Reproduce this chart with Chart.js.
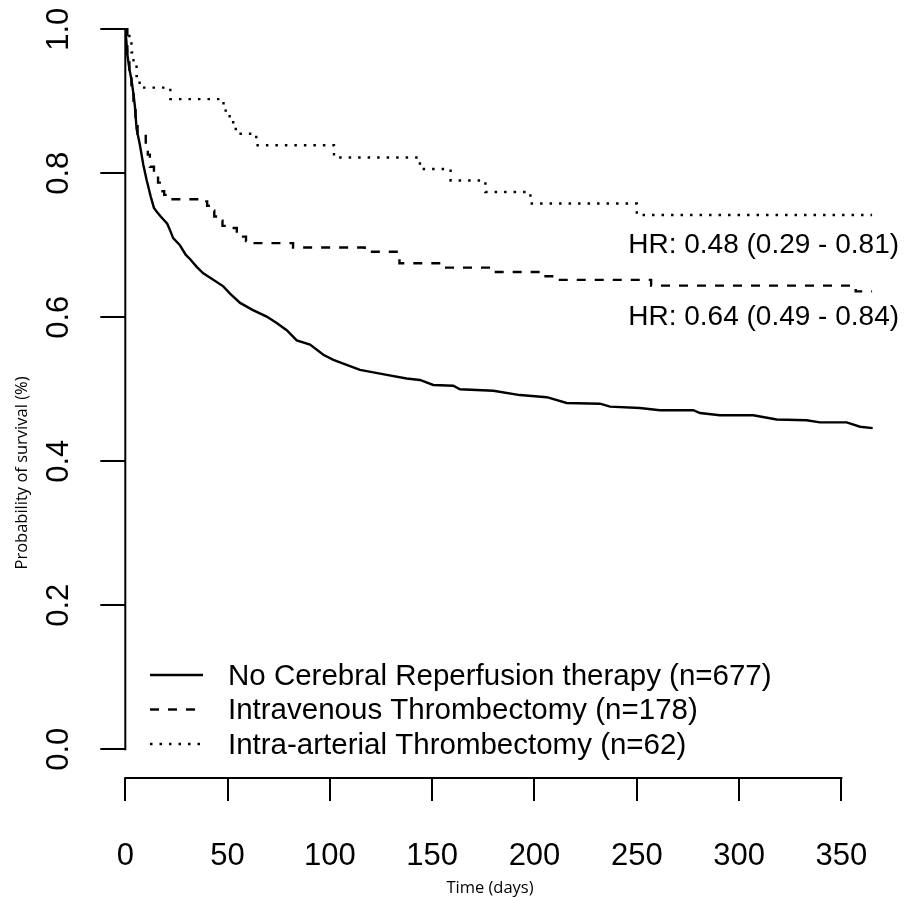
<!DOCTYPE html>
<html>
<head>
<meta charset="utf-8">
<script src="https://cdn.jsdelivr.net/npm/chart.js@4.4.1/dist/chart.umd.min.js"></script>
<style>
html,body{margin:0;padding:0;background:#fff;overflow:hidden}
#wrap{width:907px;height:898px;position:relative}
canvas{display:block}
</style>
</head>
<body>
<div id="wrap"><canvas id="c" width="907" height="898"></canvas></div>
<script>
// ---------- data ----------
const xTicks = [0, 50, 100, 150, 200, 250, 300, 350];
const xTickLabels = ['0', '50', '100', '150', '200', '250', '300', '350'];
const yTicks = [0, 0.2, 0.4, 0.6, 0.8, 1.0];
const yTickLabels = ['0.0', '0.2', '0.4', '0.6', '0.8', '1.0'];

const seriesNames = [
  'No Cerebral Reperfusion therapy (n=677)',
  'Intravenous Thrombectomy (n=178)',
  'Intra-arterial Thrombectomy (n=62)'
];

// No cerebral reperfusion therapy (solid)
const noTherapyDays = [0, 0.5, 1, 2, 3, 4, 4.7, 5.5, 7.1, 8.8, 10.4, 12.4, 14, 15.3, 17.3, 20.5, 22, 23.4, 26.7, 29.5, 31.6, 34.9, 38.1, 43, 47.9, 51.2, 56.1, 62.4, 69.1, 74, 78.9, 83.8, 90.3, 96.8, 101.7, 108.2, 114.7, 127.8, 137.5, 144, 150.5, 160.3, 163.6, 179.9, 192.9, 206, 215.7, 232, 236.9, 251.5, 261.3, 277.6, 280.9, 290.6, 306.9, 318.4, 333, 339.5, 352.6, 359.1, 365.3];
const noTherapySurv = [1, 0.985, 0.965, 0.945, 0.93, 0.91, 0.893, 0.862, 0.84, 0.812, 0.791, 0.768, 0.752, 0.747, 0.74, 0.73, 0.72, 0.71, 0.7, 0.687, 0.681, 0.67, 0.661, 0.652, 0.643, 0.633, 0.62, 0.61, 0.601, 0.592, 0.582, 0.568, 0.562, 0.548, 0.541, 0.534, 0.527, 0.52, 0.515, 0.513, 0.506, 0.505, 0.5, 0.498, 0.492, 0.489, 0.481, 0.48, 0.476, 0.474, 0.471, 0.471, 0.467, 0.464, 0.464, 0.458, 0.457, 0.454, 0.454, 0.448, 0.446];

// Intravenous thrombectomy (dashed), step function
const ivtDays = [0, 1, 2, 3, 4, 5, 6, 10, 11, 12, 14, 16, 17.5, 19, 20.5, 36.5, 40, 42, 43.5, 45.5, 47.5, 51, 54.5, 57, 59, 60.5, 82, 117, 134, 155, 180, 203, 210, 257, 357, 365];
const ivtSurv = [1, 0.966, 0.944, 0.916, 0.893, 0.871, 0.855, 0.837, 0.826, 0.809, 0.798, 0.787, 0.775, 0.77, 0.764, 0.761, 0.755, 0.748, 0.74, 0.734, 0.727, 0.724, 0.717, 0.712, 0.706, 0.703, 0.697, 0.691, 0.675, 0.669, 0.663, 0.657, 0.652, 0.644, 0.636, 0.636];

// Intra-arterial thrombectomy (dotted), step function
const iatDays = [0, 2, 3, 4, 5.5, 7, 22, 48, 51, 54, 64, 102, 144, 159, 176, 198, 250, 365];
const iatSurv = [1, 0.984, 0.968, 0.952, 0.935, 0.919, 0.903, 0.887, 0.871, 0.855, 0.839, 0.822, 0.806, 0.79, 0.774, 0.758, 0.742, 0.742];

const hrLabels = ['HR: 0.48 (0.29 - 0.81)', 'HR: 0.64 (0.49 - 0.84)'];
const hrAtDay = [312, 312];
const hrAtSurv = [0.70, 0.60];

const xTitle = 'Time (days)';
const yTitle = 'Probability of survival (%)';

// ---------- helpers ----------
const toPoints = (xs, ys) => xs.map((d, i) => ({x: d, y: ys[i]}));
const SANS = "'Liberation Sans', Arial, Helvetica, sans-serif";
const TITLE_FONT = "'Open Sans', 'Liberation Sans', sans-serif";

const rStylePlugin = {
  id: 'rStyle',
  afterDraw(chart) {
    const {ctx, chartArea, scales} = chart;
    const xs = scales.x, ys = scales.y;
    ctx.save();
    ctx.strokeStyle = '#000';
    ctx.fillStyle = '#000';
    ctx.lineWidth = 2;
    ctx.setLineDash([]);
    ctx.lineCap = 'square';
    // axis lines (only across the tick range, R style)
    const ax = chartArea.left;
    const ay = chartArea.bottom;
    ctx.beginPath();
    ctx.moveTo(ax, ys.getPixelForValue(yTicks[0]));
    ctx.lineTo(ax, ys.getPixelForValue(yTicks[yTicks.length - 1]));
    ctx.moveTo(xs.getPixelForValue(xTicks[0]), ay);
    ctx.lineTo(xs.getPixelForValue(xTicks[xTicks.length - 1]), ay);
    ctx.stroke();
    ctx.lineCap = 'butt';

    // legend (bottom-left inside plot)
    const y0 = ys.getPixelForValue(0);
    const rows = [y0 - 74.3, y0 - 39.8, y0 - 5.3];
    const lx0 = ax + 24.7, lx1 = ax + 77.7, tx = ax + 102.7;
    ctx.font = '29.5px ' + SANS;
    ctx.textAlign = 'left';
    ctx.textBaseline = 'alphabetic';
    chart.data.datasets.forEach((ds, i) => {
      ctx.save();
      ctx.lineWidth = ds.borderWidth;
      ctx.setLineDash(ds.borderDash || []);
      ctx.beginPath();
      ctx.moveTo(lx0, rows[i]);
      ctx.lineTo(lx1, rows[i]);
      ctx.stroke();
      ctx.restore();
      ctx.fillText(ds.label, tx, rows[i] + 9.5);
    });

    // hazard ratio annotations
    ctx.font = '28px ' + SANS;
    ctx.textAlign = 'center';
    ctx.textBaseline = 'middle';
    hrLabels.forEach((t, i) => {
      ctx.fillText(t, xs.getPixelForValue(hrAtDay[i]), ys.getPixelForValue(hrAtSurv[i]));
    });

    // axis titles
    ctx.font = '16.5px ' + TITLE_FONT;
    ctx.textAlign = 'center';
    ctx.textBaseline = 'alphabetic';
    ctx.fillText(xTitle, 490, 893);
    ctx.save();
    ctx.translate(27, 473);
    ctx.rotate(-Math.PI / 2);
    ctx.fillText(yTitle, 0, 0);
    ctx.restore();
    ctx.restore();
  }
};

Chart.defaults.font.family = SANS;
Chart.defaults.color = '#000';

const noOverflow = s => { s.paddingTop = 0; s.paddingBottom = 0; s.paddingLeft = 0; s.paddingRight = 0; };

new Chart(document.getElementById('c'), {
  type: 'scatter',
  data: {
    datasets: [
      {label: seriesNames[0], data: toPoints(noTherapyDays, noTherapySurv), showLine: true, stepped: false,
       borderColor: '#000', borderWidth: 2.4, borderDash: [], pointRadius: 0, pointHoverRadius: 0, fill: false},
      {label: seriesNames[1], data: toPoints(ivtDays, ivtSurv), showLine: true, stepped: true,
       borderColor: '#000', borderWidth: 2.4, borderDash: [9, 9], pointRadius: 0, pointHoverRadius: 0, fill: false},
      {label: seriesNames[2], data: toPoints(iatDays, iatSurv), showLine: true, stepped: true,
       borderColor: '#000', borderWidth: 2.4, borderDash: [2.5, 7], pointRadius: 0, pointHoverRadius: 0, fill: false}
    ]
  },
  options: {
    responsive: false,
    animation: false,
    devicePixelRatio: 1,
    layout: {padding: {left: 0, right: 24.7, top: 0.5, bottom: 0}},
    plugins: {legend: {display: false}, tooltip: {enabled: false}},
    scales: {
      x: {
        type: 'linear', position: 'bottom', min: 0, max: 370,
        afterBuildTicks: s => { s.ticks = xTicks.map(v => ({value: v})); },
        afterFit: s => { s.height = 119.9; noOverflow(s); },
        border: {display: false},
        grid: {display: true, drawOnChartArea: false, drawTicks: true, tickLength: 23, color: '#000', lineWidth: 2},
        ticks: {font: {size: 31}, color: '#000', padding: 37, maxRotation: 0, minRotation: 0, autoSkip: false,
                callback: (v, i) => xTickLabels[i]}
      },
      y: {
        type: 'linear', position: 'left', min: -0.04, max: 1.04,
        afterBuildTicks: s => { s.ticks = yTicks.map(v => ({value: v})); },
        afterFit: s => { s.width = 125.3; noOverflow(s); },
        border: {display: false},
        grid: {display: true, drawOnChartArea: false, drawTicks: true, tickLength: 25, color: '#000', lineWidth: 2},
        ticks: {font: {size: 31}, color: '#000', padding: 19.5, minRotation: 90, maxRotation: 90, autoSkip: false,
                crossAlign: 'center', callback: (v, i) => yTickLabels[i]}
      }
    }
  },
  plugins: [rStylePlugin]
});
</script>
</body>
</html>
